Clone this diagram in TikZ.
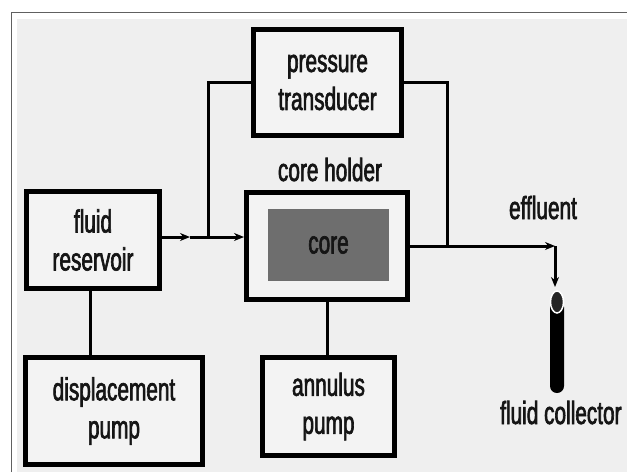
\documentclass[tikz,border=0pt]{standalone}
\usepackage{fontspec}
\setmainfont[FakeStretch=0.65,FakeBold=2]{Liberation Sans}
\usetikzlibrary{arrows.meta,shapes.geometric}
\definecolor{bgfill}{HTML}{EFEFEF}
\definecolor{boxfill}{HTML}{F3F3F3}
\definecolor{framecol}{HTML}{606060}
\definecolor{corefill}{HTML}{6E6E6E}
\definecolor{ink}{HTML}{151515}
\newcommand\dgfont{\fontsize{32}{38}\selectfont}
\begin{document}
\begin{tikzpicture}[x=1pt,y=-1pt,
  box/.style={draw=black, line width=5pt, fill=boxfill, inner sep=0pt, align=center, text=ink, font=\dgfont,
    path picture={\fill[black] (path picture bounding box.south west) rectangle ([yshift=3pt]path picture bounding box.south east);}},
  wire/.style={line width=3pt, draw=black},
  tip/.style={-{Stealth[length=10pt,width=8pt]}},
  lbl/.style={text=ink, font=\dgfont, inner sep=0pt}]
\useasboundingbox (0,0) rectangle (627,472);
\fill[white] (0,0) rectangle (627,472);
\fill[bgfill] (17,19) rectangle (627,472);
\draw[framecol, line width=1.5pt] (11.5,472) -- (11.5,12.5) -- (627,12.5);

% boxes
\node[box, minimum width=133pt, minimum height=97pt] (res) at (93,240) {fluid\\reservoir};
\node[box, minimum width=161pt, minimum height=107pt] (hold) at (327,246) {};
\node[fill=corefill, minimum width=121pt, minimum height=72pt, inner sep=0pt, text=ink, font=\dgfont] (core) at (328.5,245) {core};
\node[box, minimum width=148pt, minimum height=106pt] (pt) at (327.5,82.5) {pressure\\transducer};
\node[box, minimum width=177pt, minimum height=107pt] (disp) at (114,411) {displacement\\pump};
\node[box, minimum width=132pt, minimum height=98pt] (ann) at (328.5,406.5) {annulus\\pump};

% labels
\node[lbl, anchor=base] (holdlbl) at (330,181) {core holder};
\node[lbl, anchor=base] (eff) at (543,219) {effluent};
\node[lbl, anchor=base west] (collbl) at (500,424) {fluid collector};

% fluid collector
\fill[black, rounded corners=7pt] (550,300) rectangle (564,393);
\node[ellipse, fill=black!85, draw=white, line width=1.5pt, minimum width=13pt, minimum height=22pt, inner sep=0pt] (cap) at (557,302) {};

% connectors
\coordinate (j1) at (208,237);
\coordinate (m1) at (190,237);
\draw[wire, tip] (res.east |- m1) -- (m1);
\draw[wire] (m1) -- (j1);
\draw[wire, tip] (j1) -- (hold.west |- j1);
\draw[wire] (j1) |- (pt.west);
\coordinate (j2) at (447,246);
\draw[wire] (hold.east |- j2) -- (j2);
\draw[wire] (j2) |- (pt.east);
\coordinate (c) at (555,246);
\draw[wire, tip] (j2) -- (c);
\draw[wire, tip] (c) -- (c |- 0,287);
\draw[wire] ([xshift=-3pt]res.south) -- ([xshift=-3pt]res.south |- disp.north);
\draw[wire] (hold.south) -- (hold.south |- ann.north);
\end{tikzpicture}
\end{document}
